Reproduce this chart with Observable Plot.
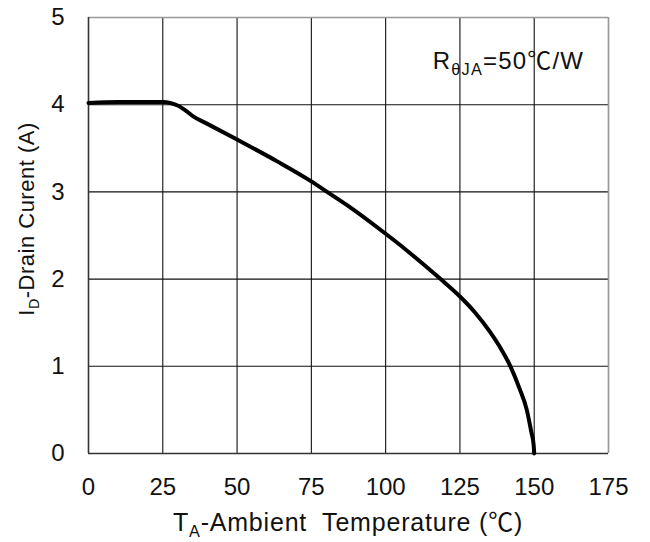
<!DOCTYPE html>
<html><head><meta charset="utf-8">
<script src="https://cdn.jsdelivr.net/npm/d3@7"></script>
<script src="https://cdn.jsdelivr.net/npm/@observablehq/plot@0.6"></script>
<style>
body{margin:0;background:#fff;}
svg{font-family:"Liberation Sans","Noto Sans CJK SC",Arial,sans-serif;}
</style>
</head><body><div id="chart"></div>
<script>
// Ambient temperature (°C) and max drain current (A)
const temperature = [0, 10, 20, 25, 27.5, 30, 32, 35.5, 40, 50, 63.5, 75, 80.3, 88.2, 100, 106, 112, 118.5, 125, 130, 135, 139, 142, 145, 147.5, 149, 149.8, 150];
const drainCurrent = [4.02, 4.03, 4.03, 4.03, 4.02, 3.99, 3.95, 3.86, 3.78, 3.60, 3.35, 3.12, 3.00, 2.82, 2.52, 2.36, 2.19, 2.00, 1.80, 1.62, 1.40, 1.19, 1.00, 0.75, 0.50, 0.25, 0.10, 0];
const xTicks = [0, 25, 50, 75, 100, 125, 150, 175];
const yTicks = [0, 1, 2, 3, 4, 5];
const xLabelParts = [["T", false], ["A", true], ["-Ambient  Temperature (℃)", false]];
const yLabelParts = [["I", false], ["D", true], ["-Drain Curent (A)", false]];
const noteParts = [["R", false], ["θJA", true], ["=50℃/W", false]];

const data = temperature.map((t, i) => ({t, id: drainCurrent[i]}));

const W = 650, H = 542;
const FONT = "'Liberation Sans', 'Noto Sans CJK SC', Arial, sans-serif";
const plot = Plot.plot({
  width: W, height: H,
  marginLeft: 88, marginRight: 42, marginTop: 17, marginBottom: 89,
  style: {fontFamily: FONT, background: "#fff"},
  x: {domain: [0, 175], ticks: xTicks},
  y: {domain: [0, 5], ticks: yTicks},
  marks: [
    Plot.gridX(xTicks, {stroke: "#111", strokeOpacity: 1, strokeWidth: 1.1}),
    Plot.gridY(yTicks, {stroke: "#111", strokeOpacity: 1, strokeWidth: 1.1}),
    Plot.ruleX([175], {stroke: "#999", strokeWidth: 1.5}),
    Plot.ruleY([5], {stroke: "#999", strokeWidth: 1.5}),
    Plot.ruleX([0], {stroke: "#333", strokeWidth: 1.5}),
    Plot.ruleY([0], {stroke: "#333", strokeWidth: 1.5}),
    Plot.line(data, {x: "t", y: "id", stroke: "#000", strokeWidth: 4, curve: "monotone-x"}),
    Plot.axisX(xTicks, {tickSize: 0, tickPadding: 24, fontSize: 24, fill: "#111", label: null, tickFormat: d => String(d)}),
    Plot.axisY(yTicks, {tickSize: 0, tickPadding: 24, fontSize: 24, fill: "#111", label: null, tickFormat: d => String(d)})
  ]
});
document.getElementById("chart").appendChild(plot);

const svg = d3.select(plot);
const xs = plot.scale("x"), ys = plot.scale("y");
function addText(g, parts, size, subScale) {
  parts.forEach(([s, sub], i) => {
    const ts = g.append("tspan").text(s);
    if (sub) ts.attr("font-size", size * subScale).attr("dy", size * 0.22);
    else if (i > 0 && parts[i - 1][1]) ts.attr("dy", -size * 0.22);
  });
}
// x-axis title
const cx = (xs.range[0] + xs.range[1]) / 2;
const xt = svg.append("text").attr("x", cx).attr("y", H - 11)
  .attr("text-anchor", "middle").attr("font-size", 25).attr("fill", "#111")
  .attr("letter-spacing", 0.8).style("white-space", "pre");
addText(xt, xLabelParts, 25, 0.65);
// y-axis title
const cy = (ys.range[0] + ys.range[1]) / 2 - 16;
const yt = svg.append("text").attr("transform", `translate(34,${cy}) rotate(-90)`)
  .attr("text-anchor", "middle").attr("font-size", 22).attr("fill", "#111")
  .attr("letter-spacing", 0.5);
addText(yt, yLabelParts, 22, 0.65);
// annotation
const nt = svg.append("text").attr("x", xs.apply(167)).attr("y", ys.apply(4.4))
  .attr("text-anchor", "end").attr("font-size", 24).attr("fill", "#111")
  .attr("letter-spacing", 1.2);
addText(nt, noteParts, 24, 0.68);
</script>
</body></html>
